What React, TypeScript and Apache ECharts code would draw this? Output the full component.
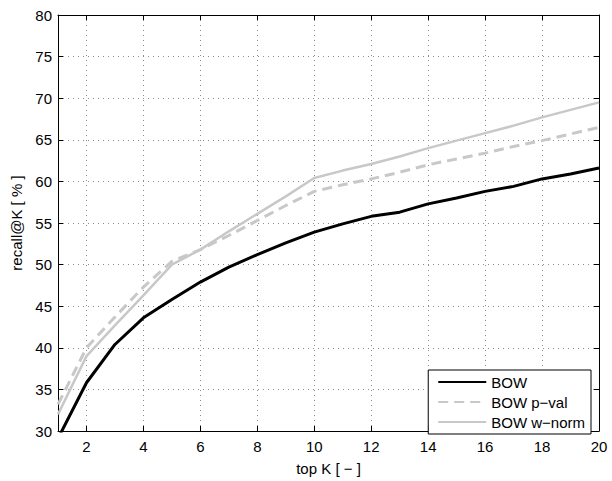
import React, { useEffect, useRef } from "react";
import * as echarts from "echarts";

const topK = [1, 2, 3, 4, 5, 6, 7, 8, 9, 10, 11, 12, 13, 14, 15, 16, 17, 18, 19, 20];
const bow = [29.1, 35.8, 40.4, 43.6, 45.8, 47.9, 49.7, 51.2, 52.6, 53.9, 54.9, 55.8, 56.3, 57.3, 58.0, 58.8, 59.4, 60.3, 60.9, 61.6];
const bowPval = [33.2, 40.0, 43.7, 47.3, 50.4, 51.8, 53.5, 55.3, 57.1, 58.8, 59.6, 60.3, 61.1, 62.0, 62.7, 63.4, 64.2, 64.9, 65.7, 66.5];
const bowWnorm = [32.0, 39.0, 42.7, 46.3, 50.0, 51.8, 54.0, 56.1, 58.2, 60.4, 61.3, 62.1, 63.0, 64.0, 64.9, 65.8, 66.7, 67.7, 68.6, 69.5];
const xTicks = [2, 4, 6, 8, 10, 12, 14, 16, 18, 20];
const seriesNames = ["BOW", "BOW p\u2212val", "BOW w\u2212norm"];

const FONT = "'Liberation Sans', Arial, Helvetica, sans-serif";

export default function App() {
  const ref = useRef<HTMLDivElement>(null);
  useEffect(() => {
    if (!ref.current) return;
    const chart = echarts.init(ref.current, null, { renderer: "svg" });
    const grid = "#8c8c8c";
    const pairs = (ys: number[]) => topK.map((k, i) => [k, ys[i]]);
    chart.setOption({
      animation: false,
      backgroundColor: "#ffffff",
      textStyle: { fontFamily: FONT },
      grid: { left: 58, right: 13, top: 15, bottom: 39, containLabel: false },
      legend: {
        orient: "vertical",
        right: 21,
        bottom: 47,
        align: "left",
        backgroundColor: "#ffffff",
        borderColor: "#000000",
        borderWidth: 1,
        padding: [4, 6, 4, 9],
        itemGap: 4,
        itemWidth: 48,
        itemHeight: 14,
        itemStyle: { opacity: 0 },
        textStyle: { fontFamily: FONT, fontSize: 15, lineHeight: 16, color: "#000", padding: [0, 0, 0, 0] },
        data: seriesNames,
      },
      xAxis: [
        {
          type: "value",
          min: 1,
          max: 20,
          position: "bottom",
          name: "top K [ \u2212 ]",
          nameLocation: "middle",
          nameGap: 30,
          nameTextStyle: { fontFamily: FONT, fontSize: 15, color: "#000" },
          axisLine: { show: true, lineStyle: { color: "#000", width: 1 } },
          axisTick: { show: true, inside: true, length: 5, customValues: xTicks, lineStyle: { color: "#000" } },
          axisLabel: { show: true, customValues: xTicks, fontSize: 15, color: "#000", margin: 8, fontFamily: FONT },
          splitLine: { show: true, lineStyle: { color: grid, type: [1, 4], width: 1 } },
        },
        {
          type: "value",
          min: 1,
          max: 20,
          position: "top",
          axisLine: { show: true, lineStyle: { color: "#000", width: 1 } },
          axisTick: { show: true, inside: true, length: 5, customValues: xTicks, lineStyle: { color: "#000" } },
          axisLabel: { show: false },
          splitLine: { show: false },
        },
      ],
      yAxis: [
        {
          type: "value",
          min: 30,
          max: 80,
          interval: 5,
          position: "left",
          name: "recall@K [ % ]",
          nameLocation: "middle",
          nameGap: 31,
          nameTextStyle: { fontFamily: FONT, fontSize: 15, color: "#000" },
          axisLine: { show: true, lineStyle: { color: "#000", width: 1 } },
          axisTick: { show: true, inside: true, length: 5, lineStyle: { color: "#000" } },
          axisLabel: { show: true, fontSize: 15, color: "#000", margin: 6, fontFamily: FONT },
          splitLine: { show: true, lineStyle: { color: grid, type: [1, 4], width: 1 } },
        },
        {
          type: "value",
          min: 30,
          max: 80,
          interval: 5,
          position: "right",
          axisLine: { show: true, lineStyle: { color: "#000", width: 1 } },
          axisTick: { show: true, inside: true, length: 5, lineStyle: { color: "#000" } },
          axisLabel: { show: false },
          splitLine: { show: false },
        },
      ],
      series: [
        {
          name: seriesNames[0],
          type: "line",
          data: pairs(bow),
          symbol: "none",
          clip: true,
          z: 5,
          lineStyle: { color: "#000000", width: 3 },
          itemStyle: { color: "#000000" },
        },
        {
          name: seriesNames[1],
          type: "line",
          data: pairs(bowPval),
          symbol: "none",
          clip: true,
          z: 4,
          lineStyle: { color: "#c8c8c8", width: 3, type: [10, 6] },
          itemStyle: { color: "#c8c8c8" },
        },
        {
          name: seriesNames[2],
          type: "line",
          data: pairs(bowWnorm),
          symbol: "none",
          clip: true,
          z: 3,
          lineStyle: { color: "#c8c8c8", width: 2.5 },
          itemStyle: { color: "#c8c8c8" },
        },
      ],
    });
    return () => chart.dispose();
  }, []);
  return (
    <div
      ref={ref}
      style={{ position: "fixed", left: 0, top: 0, width: 612, height: 481, background: "#fff" }}
    />
  );
}
